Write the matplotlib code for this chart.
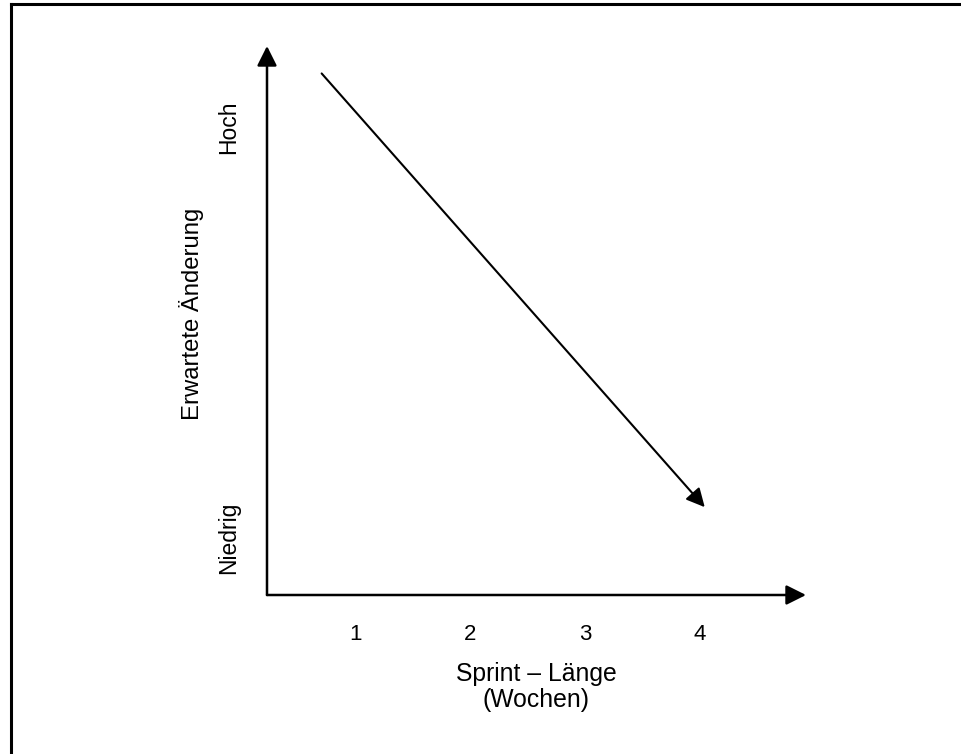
import matplotlib.pyplot as plt

plt.rcParams['font.family'] = ['Liberation Sans', 'DejaVu Sans']

# chart values
sprint_weeks = [0.71, 4.04]        # start / end of the trend arrow
expected_change = [9.5, 1.6]
x_ticks = [1, 2, 3, 4]
x_tick_labels = ['1', '2', '3', '4']
y_ticks = [1.04, 8.52]
y_tick_labels = ['Niedrig', 'Hoch']

fig = plt.figure(figsize=(9.61, 7.54), dpi=100)
ax = fig.add_axes([267 / 961, 159 / 754, 539 / 961, 549 / 754])
ax.set_xlim(0.235, 4.92)
ax.set_ylim(0, 10)

for s in ax.spines.values():
    s.set_visible(False)

# axes with arrow heads
arrow = dict(arrowstyle='-|>', lw=1.8, color='black', mutation_scale=30, shrinkA=0, shrinkB=0)
ax.annotate('', xy=(1, 0), xytext=(0, 0), xycoords='axes fraction', arrowprops=arrow)
ax.annotate('', xy=(0, 1), xytext=(0, 0), xycoords='axes fraction', arrowprops=arrow)

# trend arrow
ax.annotate('', xy=(sprint_weeks[1], expected_change[1]),
            xytext=(sprint_weeks[0], expected_change[0]),
            arrowprops=dict(arrowstyle='-|>', lw=1.5, color='black',
                            mutation_scale=28, shrinkA=0, shrinkB=0))

ax.set_xticks(x_ticks)
ax.set_xticklabels(x_tick_labels, fontsize=16)
ax.set_yticks(y_ticks)
ax.set_yticklabels(y_tick_labels, fontsize=16.5, rotation=90, va='center')
ax.tick_params(axis='x', length=0, pad=21)
ax.tick_params(axis='y', length=0, pad=19)

ax.set_xlabel('Sprint – Länge\n(Wochen)', fontsize=17.8, linespacing=1.1)
ax.xaxis.set_label_coords((536 - 267) / 539, -(700 + 12 - 595) / 549)
ax.xaxis.label.set_va('bottom')
ax.set_ylabel('Erwartete Änderung', fontsize=17.2)
ax.yaxis.set_label_coords(-(267 - 191) / 539, (595 - 314) / 549)
ax.yaxis.label.set_va('center')

# frame (only top and left visible in the crop)
fig.add_artist(plt.Line2D([10.5 / 961, 1], [1 - 4 / 754, 1 - 4 / 754], lw=2.2, color='black'))
fig.add_artist(plt.Line2D([10.5 / 961, 10.5 / 961], [0, 1 - 4 / 754], lw=2.2, color='black'))

fig.savefig('out.png', dpi=100)
